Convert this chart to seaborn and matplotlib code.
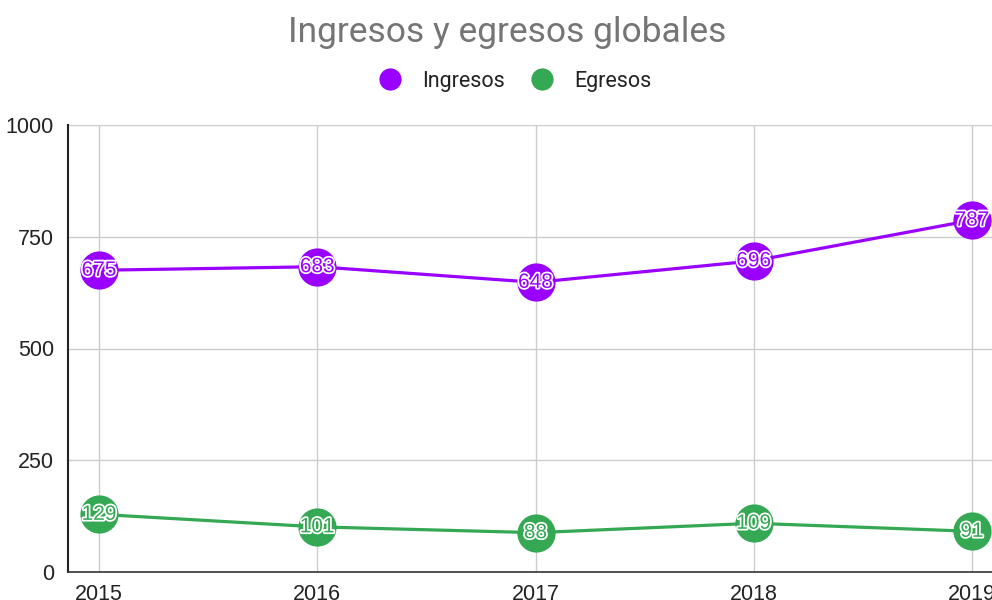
import numpy as np
import pandas as pd
import matplotlib
matplotlib.use("Agg")
import matplotlib.pyplot as plt
import matplotlib.patheffects as pe
from matplotlib.lines import Line2D
import seaborn as sns

years = [2015, 2016, 2017, 2018, 2019]
ingresos = [675, 683, 648, 696, 787]
egresos = [129, 101, 88, 109, 91]
series_names = ["Ingresos", "Egresos"]
colors = {"Ingresos": "#9900ff", "Egresos": "#34a853"}
y_ticks = [0, 250, 500, 750, 1000]

df = pd.DataFrame({
    "Año": years * 2,
    "Valor": ingresos + egresos,
    "Serie": ["Ingresos"] * len(years) + ["Egresos"] * len(years),
})

sns.set_style("white")
plt.rcParams["font.family"] = ["Liberation Sans", "DejaVu Sans"]

fig = plt.figure(figsize=(9.92, 6.0), dpi=100)
ax = fig.add_axes([68 / 992, 28 / 600, 1 - 68 / 992, 447 / 600])

sns.lineplot(data=df, x="Año", y="Valor", hue="Serie", palette=colors,
             marker="o", markersize=27.5, markeredgewidth=0, linewidth=2.3,
             ax=ax, legend=False, clip_on=False)

for name, vals in zip(series_names, [ingresos, egresos]):
    for x, v in zip(years, vals):
        ax.text(x, v, str(v), ha="center", va="center", fontsize=15,
                color=colors[name], zorder=5,
                path_effects=[pe.withStroke(linewidth=2.5, foreground="white")])

ax.set_xlim(2015 - 31 / 218, 2019 + 20 / 218)
ax.set_ylim(0, 1000)
ax.set_yticks(y_ticks)
ax.set_xticks(years)
ax.set_xticklabels([str(y) for y in years])
ax.tick_params(axis="both", labelsize=15.5, colors="#222222", length=0)
ax.tick_params(axis="y", pad=10)
ax.tick_params(axis="x", pad=9)
ax.grid(True, color="#cccccc", linewidth=1)
ax.set_axisbelow(True)
ax.set_xlabel("")
ax.set_ylabel("")
for s in ["top", "right"]:
    ax.spines[s].set_visible(False)
ax.spines["left"].set_color("#222222")
ax.spines["left"].set_linewidth(1.5)
ax.spines["bottom"].set_color("#333333")
ax.spines["bottom"].set_linewidth(1.2)

fig.text(0.511, 0.946, "Ingresos y egresos globales", ha="center", va="center",
         fontsize=25.5, color="#757575", family=["Roboto", "DejaVu Sans"])

handles = [Line2D([], [], linestyle="none", marker="o", markersize=16,
                  markerfacecolor=colors[n], markeredgewidth=0) for n in series_names]
fig.legend(handles, series_names, loc="center", bbox_to_anchor=(0.514, 0.865),
           ncol=2, frameon=False, handletextpad=0.5, columnspacing=0.75,
           labelcolor="#222222", prop={"family": ["Roboto", "DejaVu Sans"], "size": 15.5})

fig.savefig("out.png", dpi=100)
